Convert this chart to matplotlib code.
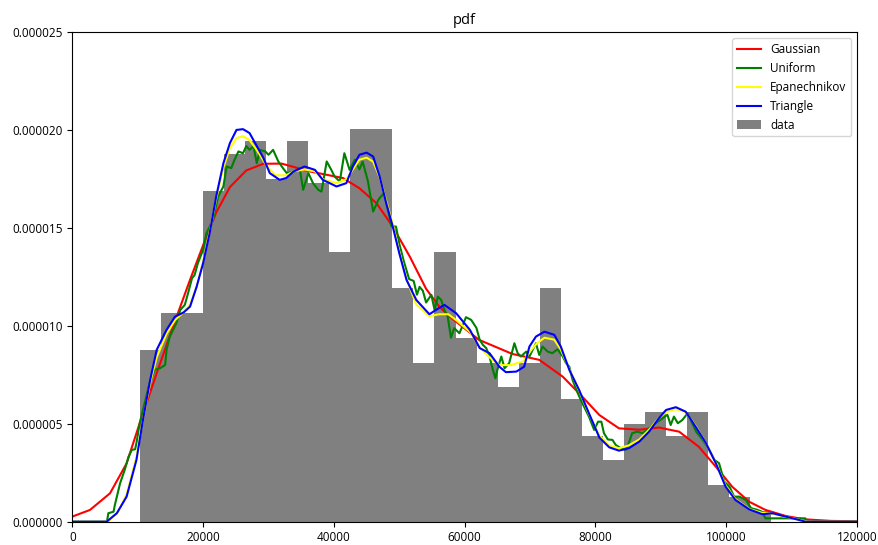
import numpy as np
import matplotlib
matplotlib.use("Agg")
import matplotlib.pyplot as plt
from matplotlib.ticker import FormatStrFormatter

plt.rcParams['font.family'] = ['Open Sans', 'DejaVu Sans']
plt.rcParams['font.size'] = 8.5

# histogram (30 bins, density values, in 1e-6)
bin_lo, bin_hi = 10300, 106900
hist_heights = [8.76, 10.67, 10.67, 16.9, 18.78, 19.43, 17.52, 19.43, 17.3, 13.8,
                20.07, 20.07, 11.92, 8.13, 13.77, 9.39, 8.13, 6.88, 8.13, 11.92,
                6.25, 4.38, 3.13, 5.0, 5.62, 4.37, 5.62, 1.88, 1.25, 0.56]

# curves: x in thousands, y in 1e-6
gauss_x = [0, 2.7, 5.76, 8.3, 10.3, 12.9, 15.4, 18.0, 20.5, 22.0, 24.1, 26.6, 29.2,
           32.0, 36.3, 41.4, 43.9, 46.5, 49.0, 51.6, 54.1, 56.1, 57.7, 62.2, 67.3,
           71.4, 75.0, 77.5, 80.6, 83.6, 86.7, 89.7, 92.8, 95.8, 98.4, 100.9, 103.5,
           106.0, 109.1, 112.0, 116.0, 120.0]
gauss_y = [0.26, 0.6, 1.45, 2.98, 5.03, 7.59, 9.97, 12.36, 14.57, 15.8, 17.1, 17.95, 18.29,
           18.3, 17.9, 17.56, 17.04, 16.28, 15.08, 13.55, 11.9, 11.0, 10.48, 9.29, 8.57,
           8.27, 7.41, 6.56, 5.45, 4.77, 4.7, 4.81, 4.6, 3.83, 2.81, 1.79, 1.02,
           0.6, 0.29, 0.12, 0.04, 0.02]

unif_x = [0, 5.3, 5.5, 6.3, 6.5, 7.3, 8.0, 8.6, 9.1, 9.6, 9.8, 10.3, 11.8, 12.6, 13.4,
          14.2, 14.4, 14.9, 15.9, 16.5, 17.2, 17.7, 18.3, 18.7, 19.2, 20.0, 20.5, 21.5,
          22.3, 23.1, 23.6, 24.3, 24.8, 25.4, 26.1, 26.6, 27.1, 27.7, 28.2, 28.7, 29.5,
          30.0, 30.7, 31.5, 32.2, 32.8, 33.8, 34.8, 35.3, 36.1, 36.8, 37.6, 38.1, 38.9,
          39.6, 40.1, 40.9, 41.6, 42.4, 43.2, 43.9, 44.4, 45.2, 46.0, 46.8, 47.2, 47.7,
          48.3, 48.8, 49.5, 50.0, 50.7, 51.5, 52.2, 52.7, 53.1, 53.6, 54.1, 54.9, 55.4,
          55.9, 56.4, 56.9, 57.4, 57.9, 58.4, 59.2, 60.2, 61.0, 61.8, 62.3, 62.8, 63.3,
          63.8, 64.3, 64.7, 65.0, 65.6, 66.1, 66.8, 67.6, 68.1, 68.6, 69.4, 69.9, 70.4,
          70.9, 71.4, 71.9, 72.7, 73.4, 74.2, 75.0, 75.5, 76.0, 76.5, 77.3, 78.0, 79.0,
          79.8, 80.4, 80.9, 81.3, 81.9, 82.6, 83.1, 83.9, 84.6, 85.1, 85.6, 86.4, 87.2,
          88.2, 89.2, 90.3, 91.0, 91.5, 92.0, 92.6, 93.3, 94.1, 95.4, 96.4, 97.4, 98.2,
          98.9, 99.7, 100.5, 101.2, 102.0, 103.0, 103.8, 104.8, 105.5, 106.0, 112.1,
          112.2, 120.0]
unif_y = [0, 0, 0.43, 0.51, 0.85, 1.96, 2.64, 3.32, 3.67, 3.7, 4.01, 5.03, 7.07, 7.76, 7.84,
          8.01, 8.78, 9.46, 10.14, 10.82, 11.08, 11.68, 12.44, 12.61, 13.21, 13.9, 14.74, 15.42,
          16.62, 17.13, 18.15, 18.07, 18.49, 18.92, 18.83, 19.2, 19.0, 19.2, 18.32, 19.0, 18.92,
          18.75, 19.0, 18.41, 18.07, 17.81, 17.89, 17.98, 16.96, 17.81, 17.3, 16.96, 16.87, 18.41,
          17.98, 17.64, 17.38, 18.83, 17.98, 18.5, 18.0, 18.4, 17.4, 15.85, 16.45, 16.62, 16.8,
          15.9, 15.1, 15.08, 14.2, 13.3, 12.4, 12.3, 11.6, 12.0, 11.8, 11.2, 11.59, 10.82,
          11.5, 11.33, 10.82, 10.48, 9.4, 9.89, 9.63, 10.45, 10.31, 9.9, 9.29, 9.03, 8.87,
          8.44, 7.76, 7.33, 7.76, 8.44, 7.84, 8.1, 9.12, 8.61, 8.44, 8.69, 8.44, 8.78,
          9.12, 8.52, 8.95, 8.69, 8.61, 8.81, 8.44, 8.1, 7.92, 7.24, 6.56, 6.05, 5.37,
          4.69, 5.11, 5.11, 4.52, 4.2, 4.18, 3.92, 3.75, 3.67, 4.01, 4.52, 4.6, 4.52,
          4.77, 5.03, 5.29, 5.46, 4.94, 5.37, 5.03, 5.2, 5.54, 4.6, 4.18, 3.67, 3.15,
          2.99, 2.04, 1.79, 1.28, 1.28, 1.11, 0.69, 0.6, 0.5, 0.17, 0.17,
          0, 0]

epan_x = [0, 5.5, 7.0, 8.3, 9.8, 10.8, 11.9, 12.9, 14.4, 15.7, 17.0, 18.0, 19.0, 20.0,
          21.0, 22.0, 23.1, 24.1, 25.1, 26.1, 27.1, 28.2, 29.7, 31.0, 32.7, 33.8, 35.5,
          37.1, 38.3, 40.4, 41.9, 42.9, 43.9, 45.0, 46.0, 47.0, 48.0, 49.0, 50.0, 51.1,
          52.6, 54.6, 56.1, 57.5, 58.7, 60.8, 62.3, 63.8, 65.3, 67.0, 69.0, 70.0, 71.0,
          72.2, 73.7, 74.7, 76.0, 77.5, 79.0, 80.6, 82.1, 83.6, 85.1, 86.7, 88.2, 89.7,
          90.8, 92.3, 93.8, 95.3, 96.9, 98.4, 99.9, 101.4, 103.5, 105.5, 107.1, 109.1,
          111.1, 112.5, 120.0]
epan_y = [0, 0, 0.5, 1.4, 3.3, 5.2, 7.1, 8.4, 9.6, 10.3, 10.7, 11.1, 12.0, 13.3,
          14.8, 16.5, 18.1, 19.1, 19.6, 19.7, 19.5, 19.0, 18.2, 17.7, 17.7, 17.9, 18.0,
          17.9, 17.5, 17.3, 17.5, 18.0, 18.5, 18.6, 18.4, 17.6, 16.4, 15.2, 13.8, 12.4,
          11.1, 10.5, 10.6, 10.6, 10.3, 9.7, 8.9, 8.4, 8.0, 8.0, 8.2, 8.7, 9.1,
          9.4, 9.3, 8.8, 7.8, 6.7, 5.5, 4.4, 3.9, 3.75, 3.9, 4.2, 4.7, 5.3,
          5.6, 5.75, 5.6, 4.9, 4.0, 3.0, 1.85, 1.15, 0.65, 0.45, 0.4, 0.25,
          0.1, 0, 0]

tri_x = [0, 5.25, 6.8, 8.3, 9.8, 10.8, 11.9, 12.9, 14.4, 15.7, 17.0, 18.0, 19.0, 20.0,
         21.0, 22.0, 23.1, 24.1, 25.1, 26.1, 27.1, 28.2, 29.2, 30.2, 31.7, 32.7, 33.8,
         35.5, 37.1, 38.3, 40.4, 41.9, 42.9, 43.9, 45.0, 46.0, 47.0, 48.0, 49.0, 50.0,
         51.1, 52.6, 54.6, 55.6, 56.9, 58.7, 60.8, 62.3, 63.8, 65.3, 66.3, 67.9, 69.1,
         69.9, 70.9, 72.2, 73.7, 74.7, 76.0, 77.5, 79.0, 80.6, 82.1, 83.6, 85.1, 86.7,
         88.2, 89.7, 90.8, 92.3, 93.8, 95.3, 96.9, 98.4, 99.9, 101.4, 103.5, 105.5,
         107.1, 109.1, 111.1, 112.1, 120.0]
tri_y = [0, 0, 0.43, 1.28, 3.15, 5.2, 7.24, 8.78, 9.8, 10.48, 10.69, 10.99, 12.0, 13.21,
         14.74, 16.62, 18.32, 19.35, 20.02, 20.06, 19.86, 19.2, 18.6, 17.81, 17.47, 17.56, 17.89,
         18.15, 17.98, 17.47, 17.13, 17.3, 18.15, 18.75, 18.86, 18.66, 17.64, 16.28, 15.08, 13.72,
         12.36, 11.33, 10.6, 10.82, 11.08, 10.65, 9.8, 8.87, 8.61, 7.92, 7.64, 7.67, 7.92,
         8.95, 9.46, 9.71, 9.55, 8.95, 7.76, 6.73, 5.54, 4.3, 3.8, 3.63, 3.75, 4.09,
         4.6, 5.29, 5.71, 5.85, 5.62, 4.86, 4.01, 2.99, 1.79, 1.11, 0.63, 0.38,
         0.43, 0.26, 0.09, 0, 0]

K = 1000.0
U = 1e-6

fig = plt.figure(figsize=(8.79, 5.45), dpi=100)
ax = fig.add_axes([0.0823, 0.0428, 0.8927, 0.8976])

edges = np.linspace(bin_lo, bin_hi, len(hist_heights) + 1)
ax.bar(edges[:-1], np.array(hist_heights) * U, width=np.diff(edges), align="edge",
       color="grey", label="data")

ax.plot(np.array(gauss_x) * K, np.array(gauss_y) * U, color="red", lw=1.5, label="Gaussian")
ax.plot(np.array(unif_x) * K, np.array(unif_y) * U, color="green", lw=1.5, label="Uniform")
ax.plot(np.array(epan_x) * K, np.array(epan_y) * U, color="yellow", lw=1.5, label="Epanechnikov")
ax.plot(np.array(tri_x) * K, np.array(tri_y) * U, color="blue", lw=1.5, label="Triangle")

ax.set_xlim(0, 120000)
ax.set_ylim(0, 0.000025)
ax.set_xticks([0, 20000, 40000, 60000, 80000, 100000, 120000])
ax.set_yticks([0, 0.000005, 0.00001, 0.000015, 0.00002, 0.000025])
ax.yaxis.set_major_formatter(FormatStrFormatter("%.6f"))
ax.set_title("pdf", fontsize=10.5)
ax.legend(loc="upper right", fontsize=8.5)

fig.savefig("out.png", dpi=100)
